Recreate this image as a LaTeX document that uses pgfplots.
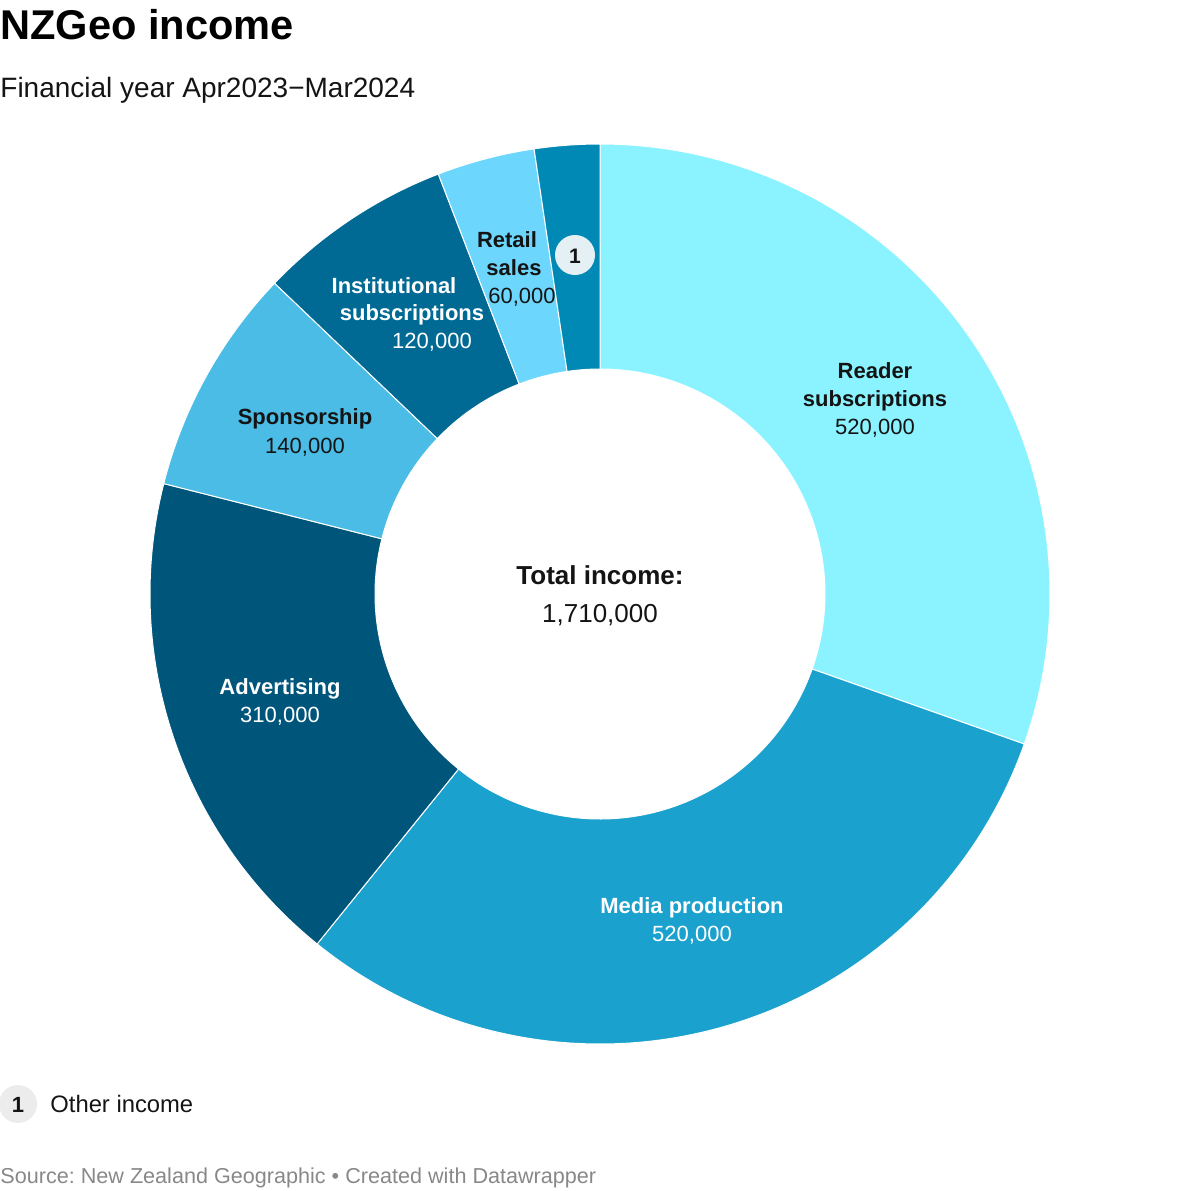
\documentclass[border=0pt]{standalone}
\usepackage{pgfplots}
\pgfplotsset{compat=1.18}
\usepackage{pgfplotstable}
\usepackage{fontspec}
\setmainfont{Liberation Sans}
\frenchspacing

\definecolor{c0}{HTML}{8AF3FF}
\definecolor{c1}{HTML}{1AA1CE}
\definecolor{c2}{HTML}{00557A}
\definecolor{c3}{HTML}{4ABCE6}
\definecolor{c4}{HTML}{006A94}
\definecolor{c5}{HTML}{6CD6FC}
\definecolor{c6}{HTML}{0089B5}
\definecolor{txt}{HTML}{141414}
\definecolor{foot}{HTML}{888888}
\definecolor{markfill}{HTML}{E4F0F4}
\definecolor{legfill}{HTML}{ECECEC}

% income in thousands
\pgfplotstableread{
label value
Reader 520
Media 520
Advertising 310
Sponsorship 140
Institutional 120
Retail 60
Other 40
}\incometable

\newcommand\donutslice[1]{%
  \edef\sa{\csname a#1\endcsname}\edef\sb{\csname b#1\endcsname}%
  \fill[c#1, draw=white, line width=0.5pt]
    ([shift={(\sa:225pt)}]axis cs:0,0) arc[start angle=\sa, end angle=\sb, radius=225pt]
    -- ([shift={(\sb:112.5pt)}]axis cs:0,0) arc[start angle=\sb, end angle=\sa, radius=112.5pt] -- cycle;}

\begin{document}
\begin{tikzpicture}
\path[use as bounding box] (0,0) rectangle (600pt,-595pt);
% totals and angles
\def\totalinc{0}
\pgfplotsforeachungrouped \i in {0,...,6}{%
  \pgfplotstablegetelem{\i}{value}\of\incometable
  \pgfmathsetmacro\totalinc{\totalinc+\pgfplotsretval}}
\def\cum{0}
\pgfplotsforeachungrouped \i in {0,...,6}{%
  \pgfplotstablegetelem{\i}{value}\of\incometable
  \pgfmathsetmacro\va{90-\cum/\totalinc*360}%
  \pgfmathsetmacro\cum{\cum+\pgfplotsretval}%
  \pgfmathsetmacro\vb{90-\cum/\totalinc*360}%
  \expandafter\edef\csname a\i\endcsname{\va}%
  \expandafter\edef\csname b\i\endcsname{\vb}}

\begin{axis}[at={(300pt,-297pt)}, anchor=center, x=1pt, y=1pt,
  xmin=-230, xmax=230, ymin=-230, ymax=230, hide axis, clip=false]
\pgfplotsinvokeforeach{0,...,6}{\pgfplotsextra{\donutslice{#1}}}
\end{axis}

\begin{scope}[x=0.5pt, y=-0.5pt]
% title, subtitle
\node[anchor=base west, inner sep=0, text=black, font=\fontsize{20.8}{24}\selectfont\bfseries] at (0,39) {NZGeo income};
\node[anchor=base west, inner sep=0, text=txt, font=\fontsize{14}{16}\selectfont] at (0,97) {Financial year Apr2023\char"2212 Mar2024};
% slice labels
\tikzset{lb/.style={anchor=base, inner sep=0, font=\fontsize{11}{13}\selectfont\bfseries},
         lv/.style={anchor=base, inner sep=0, font=\fontsize{11}{13}\selectfont}}
\node[lb, text=txt] at (875,378) {Reader};
\node[lb, text=txt] at (875,406) {subscriptions};
\node[lv, text=txt] at (875,434) {520,000};
\node[lb, text=white] at (692,913) {Media production};
\node[lv, text=white] at (692,941) {520,000};
\node[lb, text=white] at (280,694) {Advertising};
\node[lv, text=white] at (280,722) {310,000};
\node[lb, text=txt] at (305,424) {Sponsorship};
\node[lv, text=txt] at (305,453) {140,000};
\node[lb, text=white] at (394,293) {Institutional};
\node[lb, text=white] at (412,320) {subscriptions};
\node[lv, text=white] at (432,348) {120,000};
\node[lb, text=txt] at (507,247) {Retail};
\node[lb, text=txt] at (514,275) {sales};
\node[lv, text=txt] at (522,303) {60,000};
% marker for Other
\fill[markfill] (575,255) circle[radius=10pt];
\node[anchor=center, inner sep=0, text=txt, font=\fontsize{10.5}{12}\selectfont\bfseries] at (575,256) {1};
% centre
\node[anchor=base, inner sep=0, text=txt, font=\fontsize{13}{15}\selectfont\bfseries] at (600,584) {Total income:};
\node[anchor=base, inner sep=0, text=txt, font=\fontsize{13}{15}\selectfont] at (600,622) {1,710,000};
% legend
\fill[legfill] (18,1104) circle[radius=9.5pt];
\node[anchor=center, inner sep=0, text=txt, font=\fontsize{11}{13}\selectfont\bfseries] at (18,1105) {1};
\node[anchor=base west, inner sep=0, text=txt, font=\fontsize{11.9}{13}\selectfont] at (50,1112) {Other income};
% footer
\node[anchor=base west, inner sep=0, text=foot, font=\fontsize{10.8}{12}\selectfont] at (0,1183) {Source: New Zealand Geographic \textbullet{} Created with Datawrapper};
\end{scope}
\end{tikzpicture}
\end{document}
